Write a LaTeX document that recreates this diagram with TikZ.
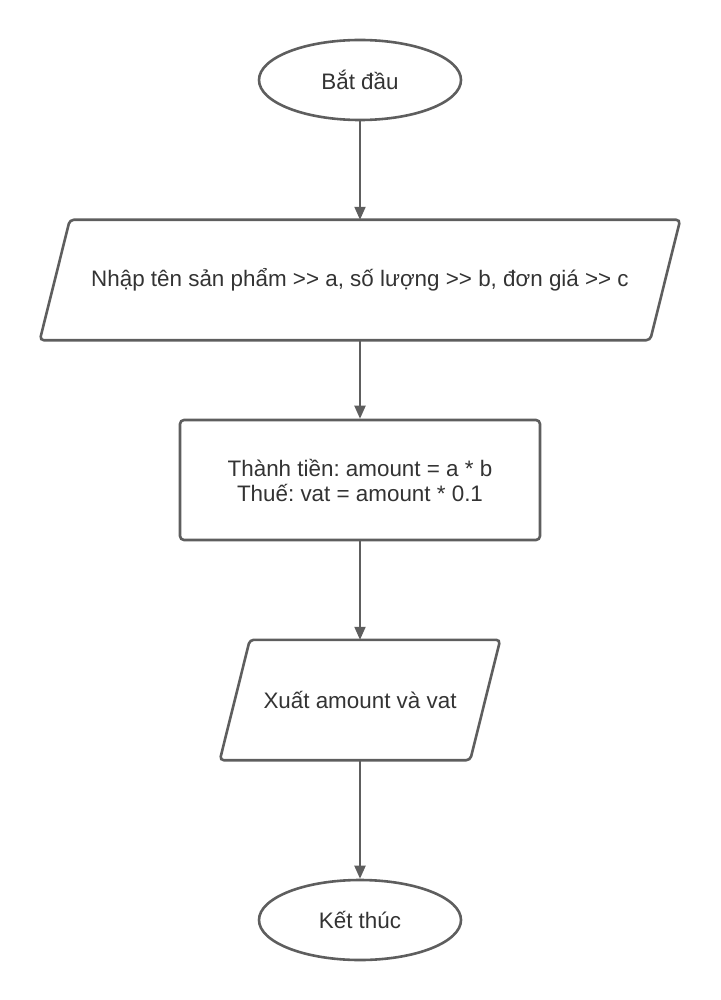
\documentclass[tikz,border=0pt]{standalone}
\usepackage{fontspec}
\setmainfont{Liberation Sans}
\usetikzlibrary{shapes.geometric,arrows.meta}
\definecolor{edgegray}{HTML}{5E5E5E}
\definecolor{textgray}{HTML}{333333}
\frenchspacing
\tikzset{
  base/.style={draw=edgegray, line width=2.6pt, fill=white, text=textgray,
    font=\fontsize{22.4}{26}\selectfont, inner sep=0pt, align=center},
  terminal/.style={base, ellipse, minimum width=202pt, minimum height=80pt},
  iotext/.style={text=textgray, font=\fontsize{22.4}{26}\selectfont,
    inner sep=0pt, align=center, minimum height=120pt},
  ioframe/.style={draw=edgegray, line width=2.6pt, rounded corners=4pt},
  procbox/.style={base, rectangle, rounded corners=4pt,
    minimum width=360pt, minimum height=120pt},
  flow/.style={draw=edgegray, line width=2pt,
    -{Triangle[length=13pt,width=11pt]}}
}
\begin{document}
\begin{tikzpicture}[x=1pt,y=-1pt]
\useasboundingbox (0,0) rectangle (720,1000);
\node[terminal] (start) at (360,80) {Bắt đầu};
% input parallelogram
\node[iotext, minimum width=610pt] (input) at (360,280)
  {Nhập tên sản phẩm >{}> a, số lượng >{}> b, đơn giá >{}> c};
\draw[ioframe] ([xshift=15pt]input.north west) -- ([xshift=15pt]input.north east)
  -- ([xshift=-15pt]input.south east) -- ([xshift=-15pt]input.south west) -- cycle;
\node[procbox] (calc) at (360,480)
  {Thành tiền: amount = a * b\\[-1pt]Thuế: vat = amount * 0.1};
% output parallelogram
\node[iotext, minimum width=250pt] (output) at (360,700) {Xuất amount và vat};
\draw[ioframe] ([xshift=15pt]output.north west) -- ([xshift=15pt]output.north east)
  -- ([xshift=-15pt]output.south east) -- ([xshift=-15pt]output.south west) -- cycle;
\node[terminal] (stop) at (360,920) {Kết thúc};
\draw[flow] (start.south) -- (input.north);
\draw[flow] (input.south) -- (calc.north);
\draw[flow] (calc.south) -- (output.north);
\draw[flow] (output.south) -- (stop.north);
\end{tikzpicture}
\end{document}
